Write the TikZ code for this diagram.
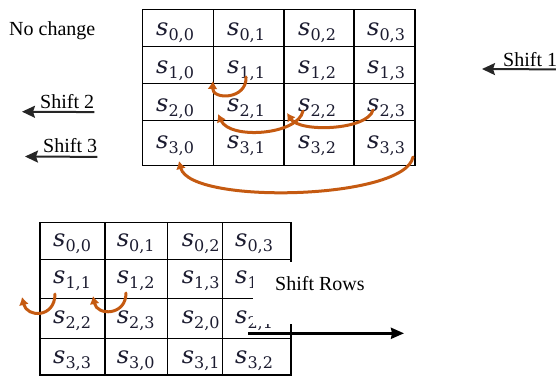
\documentclass[tikz,border=0pt]{standalone}
\usepackage{fontspec}
\setmainfont{Liberation Serif}
\newfontfamily\cellfont{DejaVu Serif}
\usetikzlibrary{arrows.meta}
\definecolor{arcorange}{HTML}{C55A11}
\definecolor{celltext}{RGB}{28,28,48}
\newcommand\cellS[2]{{\fontsize{24}{28}\selectfont\itshape s}\raisebox{-5pt}{\fontsize{16}{18}\selectfont #1,#2}}
\begin{document}
\begin{tikzpicture}[x=1pt,y=-1pt,
  gridline/.style={line width=1.3pt, black},
  celltxt/.style={anchor=base west, inner sep=0pt, text=celltext, font=\cellfont},
  lbl/.style={font=\fontsize{20}{24}\selectfont, inner xsep=0pt, inner ysep=0pt, anchor=base west, text=black},
  shiftarrow/.style={line width=2pt, black!85, -{Stealth[length=13pt,width=12pt,inset=2pt]}},
  arcarrow/.style={line width=3pt, arcorange, -{Latex[length=8pt,width=10pt]}, line cap=round},
]
\useasboundingbox (0,0) rectangle (556,378);

% ---------- top grid ----------
\foreach \x in {213.3,284,354} \draw[gridline] (\x,9.3) -- (\x,165.7);
\foreach \y in {46.7,83.3,120.7} \draw[gridline] (142.7,\y) -- (415,\y);
\draw[gridline] (142.7,9.3) rectangle (415,165.7);

\foreach \r/\yb in {0/35.5,1/73,2/111,3/148}
  \foreach \c/\xl in {0/156,1/227,2/298,3/367}
    \node[celltxt] (t\r\c) at (\xl,\yb) {\cellS{\r}{\c}};

% ---------- bottom grid ----------
\foreach \x in {105,167.7,222.7} \draw[gridline] (\x,222.7) -- (\x,375);
\foreach \y in {259.3,298.3,338.3} \draw[gridline] (40,\y) -- (291,\y);
\draw[gridline] (40,222.7) rectangle (291,375);

\foreach \r/\yb/\la/\lb/\lc/\ld in {0/246.7/0/1/2/3, 1/283.3/1/2/3/0, 2/323.3/2/3/0/1, 3/363.3/3/0/1/2}{
  \node[celltxt] (b\r0) at (53,\yb) {\cellS{\r}{\la}};
  \node[celltxt] (b\r1) at (116.7,\yb) {\cellS{\r}{\lb}};
  \node[celltxt] (b\r2) at (181.7,\yb) {\cellS{\r}{\lc}};
  \node[celltxt] (b\r3) at (235,\yb) {\cellS{\r}{\ld}};
}

% white label box covering part of the bottom grid
\fill[white] (253,261.7) rectangle (372,323.5);
\node[lbl] (sr) at (275,290) {Shift Rows};

\coordinate (srA) at (248,333.3);
\coordinate (srB) at (404,333.3);
\draw[line width=2.5pt, black, -{Stealth[length=13pt,width=11pt,inset=1pt]}] (srA) -- (srB);

% ---------- labels ----------
\node[lbl] (nc) at (9,35) {No change};

\node[lbl, inner ysep=3pt] (sh1) at (503,66) {Shift 1};
\coordinate (sh1tip) at (482,69);
\draw[shiftarrow] (sh1.south east) -- (sh1tip);

\node[lbl, inner ysep=3.7pt] (sh2) at (40,108) {Shift 2};
\coordinate (sh2tip) at (22,111.7);
\draw[shiftarrow] (sh2.south east) -- (sh2tip);

\node[lbl, inner ysep=4pt] (sh3) at (43,152.5) {Shift 3};
\coordinate (sh3tip) at (25,156.5);
\draw[shiftarrow] (sh3.south east) -- (sh3tip);

% ---------- arcs, top grid ----------
\coordinate (a1s) at (246,77);  \coordinate (a1e) at (213,81);
\draw[arcarrow] (a1s) .. controls (247,100) and (212,100) .. (a1e);
\coordinate (a2s) at (303,111); \coordinate (a2e) at (218,114);
\draw[arcarrow] (a2s) .. controls (298,135) and (230,140) .. (a2e);
\coordinate (a3s) at (373,110); \coordinate (a3e) at (287,113);
\draw[arcarrow] (a3s) .. controls (368,130) and (300,133) .. (a3e);
\coordinate (a4s) at (413,157); \coordinate (a4e) at (179,161);
\draw[arcarrow] (a4s) .. controls (405,200) and (190,205) .. (a4e);

% ---------- arcs, bottom grid ----------
\coordinate (b1s) at (55,294);  \coordinate (b1e) at (22,297);
\draw[arcarrow] (b1s) .. controls (55,318) and (27,318) .. (b1e);
\coordinate (b2s) at (126,293); \coordinate (b2e) at (93,296);
\draw[arcarrow] (b2s) .. controls (126,316) and (97,316) .. (b2e);
\end{tikzpicture}
\end{document}
